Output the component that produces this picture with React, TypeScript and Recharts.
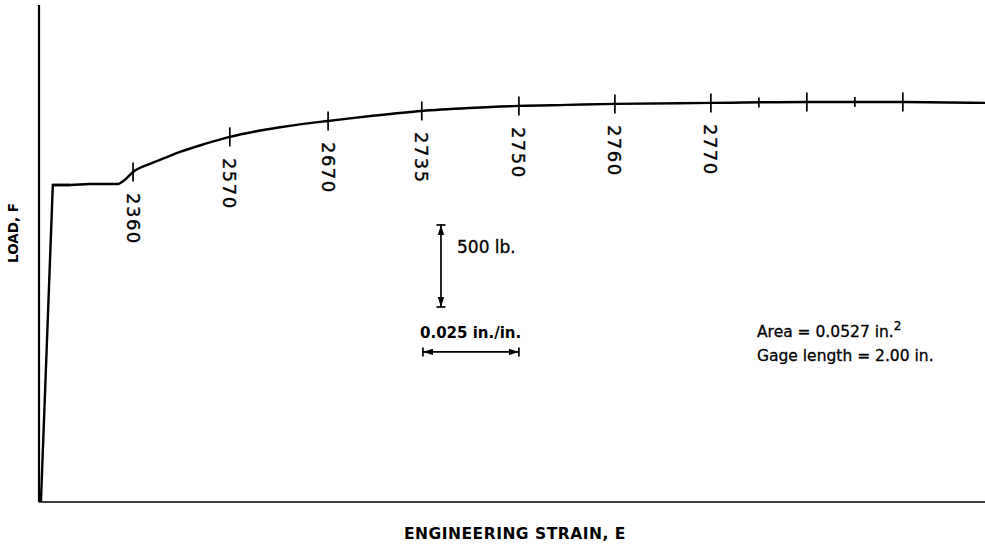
import React from "react";
import { ComposedChart, Line, Scatter, XAxis, YAxis, ReferenceLine } from "recharts";

// Engineering strain (in./in.) and load (lb) read from the record
const curveStrain = [0.0005, 0.0036, 0.0081, 0.0133, 0.0185, 0.0206, 0.0216, 0.0229, 0.0245, 0.0289, 0.0328, 0.0367, 0.0432, 0.0497, 0.0563, 0.0628, 0.0693, 0.0753, 0.0875, 0.0997, 0.1122, 0.125, 0.1375, 0.15, 0.175, 0.2, 0.225, 0.2464];
const curveLoad = [0, 1933, 1933, 1939, 1939, 1939, 1951, 1976, 2012, 2062, 2098, 2134, 2183, 2226, 2259, 2285, 2307, 2323, 2356, 2384, 2402, 2415, 2421, 2427, 2433, 2439, 2439, 2433];

// Marks along the curve and their labels
const markStrain = [0.0245, 0.0497, 0.0753, 0.0997, 0.125, 0.15, 0.175, 0.1875, 0.2, 0.2125, 0.225];
const markLoad = [2012, 2226, 2323, 2384, 2415, 2427, 2433, 2436, 2439, 2439, 2439];
const markLabels = ["2360", "2570", "2670", "2735", "2750", "2760", "2770", "", "", "", ""];
const markMajor = [true, true, true, true, true, true, true, false, true, false, true];

// Scale bars: 500 lb vertical, 0.025 in./in. horizontal
const loadBarStrain = 0.1047;
const loadBarFrom = 1189;
const loadBarSize = 500;
const strainBarLoad = 915;
const strainBarFrom = 0.1;
const strainBarSize = 0.025;

const xDomain: [number, number] = [0, 0.2464];
const yDomain: [number, number] = [0, 3030];

const curveData = curveStrain.map((s, i) => ({ strain: s, load: curveLoad[i] }));
const elasticData = curveData.slice(0, 3);
const plasticData = curveData.slice(1);
const markData = markStrain.map((s, i) => ({ strain: s, load: markLoad[i], label: markLabels[i], major: markMajor[i] }));

const FONT = "'DejaVu Sans', sans-serif";

function MarkShape(props: any) {
  const { cx, cy, payload } = props;
  const h = payload.major ? 9.5 : 5;
  return (
    <g>
      <line x1={cx} x2={cx} y1={cy - h} y2={cy + h} stroke="#000" strokeWidth={1.7} />
      {payload.label ? (
        <text
          transform={`translate(${cx},${cy + 21}) rotate(90)`}
          textAnchor="start"
          dominantBaseline="central"
          fontFamily={FONT}
          fontSize={18}
          letterSpacing={1.5}
          fill="#000"
          stroke="#000"
          strokeWidth={0.35}
        >
          {payload.label}
        </text>
      ) : null}
    </g>
  );
}

function ArrowShape(props: any) {
  const x1 = Number(props.x1), y1 = Number(props.y1), x2 = Number(props.x2), y2 = Number(props.y2);
  const dx = x2 - x1, dy = y2 - y1;
  const len = Math.sqrt(dx * dx + dy * dy) || 1;
  const ux = dx / len, uy = dy / len;
  const px = -uy, py = ux;
  const cap = 4.5, head = 10, hw = 3.2;
  const tri = (x: number, y: number, dir: number) => {
    const bx = x - ux * head * dir, by = y - uy * head * dir;
    return `${x},${y} ${bx + px * hw},${by + py * hw} ${bx - px * hw},${by - py * hw}`;
  };
  return (
    <g>
      <line x1={x1} y1={y1} x2={x2} y2={y2} stroke="#000" strokeWidth={1.7} />
      <line x1={x1 + px * cap} y1={y1 + py * cap} x2={x1 - px * cap} y2={y1 - py * cap} stroke="#000" strokeWidth={1.7} />
      <line x1={x2 + px * cap} y1={y2 + py * cap} x2={x2 - px * cap} y2={y2 - py * cap} stroke="#000" strokeWidth={1.7} />
      <polygon points={tri(x1, y1, -1)} fill="#000" />
      <polygon points={tri(x2, y2, 1)} fill="#000" />
    </g>
  );
}

export default function App() {
  return (
    <div style={{ position: "absolute", left: 0, top: 0, width: 985, height: 546, background: "#fff" }}>
      <ComposedChart width={985} height={546} margin={{ top: 5, right: 0, bottom: 44, left: 39 }}>
        <XAxis type="number" dataKey="strain" domain={xDomain} allowDataOverflow hide />
        <YAxis type="number" dataKey="load" domain={yDomain} allowDataOverflow hide />
        <ReferenceLine
          segment={[
            { x: xDomain[0], y: yDomain[0] },
            { x: xDomain[0], y: yDomain[1] },
          ]}
          stroke="#000"
          strokeWidth={2.2}
          ifOverflow="visible"
        />
        <ReferenceLine
          segment={[
            { x: xDomain[0], y: yDomain[0] },
            { x: xDomain[1], y: yDomain[0] },
          ]}
          stroke="#000"
          strokeWidth={1.6}
          ifOverflow="visible"
        />
        <Line
          data={elasticData}
          dataKey="load"
          type="linear"
          stroke="#000"
          strokeWidth={2.4}
          dot={false}
          activeDot={false}
          isAnimationActive={false}
        />
        <Line
          data={plasticData}
          dataKey="load"
          type="monotone"
          stroke="#000"
          strokeWidth={2.4}
          dot={false}
          activeDot={false}
          isAnimationActive={false}
        />
        <Scatter data={markData} dataKey="load" shape={MarkShape} isAnimationActive={false} />
        <ReferenceLine
          segment={[
            { x: loadBarStrain, y: loadBarFrom },
            { x: loadBarStrain, y: loadBarFrom + loadBarSize },
          ]}
          shape={ArrowShape}
        />
        <ReferenceLine
          segment={[
            { x: strainBarFrom, y: strainBarLoad },
            { x: strainBarFrom + strainBarSize, y: strainBarLoad },
          ]}
          shape={ArrowShape}
        />
      </ComposedChart>
      <svg
        width={985}
        height={546}
        style={{ position: "absolute", left: 0, top: 0, pointerEvents: "none" }}
      >
        <text
          transform="translate(13,233) rotate(-90)"
          textAnchor="middle"
          dominantBaseline="central"
          fontFamily={FONT}
          fontWeight="bold"
          fontSize={13.5}
          fill="#000"
        >
          LOAD, F
        </text>
        <text x={404} y={539} fontFamily={FONT} fontWeight="bold" fontSize={15.5} letterSpacing={0.5} fill="#000">
          ENGINEERING STRAIN, E
        </text>
        <text x={457} y={253} fontFamily={FONT} fontSize={17} fill="#000" stroke="#000" strokeWidth={0.3}>
          500 lb.
        </text>
        <text x={420} y={338} fontFamily={FONT} fontWeight="bold" fontSize={15} fill="#000">
          0.025 in./in.
        </text>
        <text x={757} y={337} fontFamily={FONT} fontSize={15.5} fill="#000" stroke="#000" strokeWidth={0.3}>
          Area = 0.0527 in.
          <tspan dy={-7} fontSize={12}>2</tspan>
        </text>
        <text x={757} y={361} fontFamily={FONT} fontSize={15.5} fill="#000" stroke="#000" strokeWidth={0.3}>
          Gage length = 2.00 in.
        </text>
      </svg>
    </div>
  );
}
